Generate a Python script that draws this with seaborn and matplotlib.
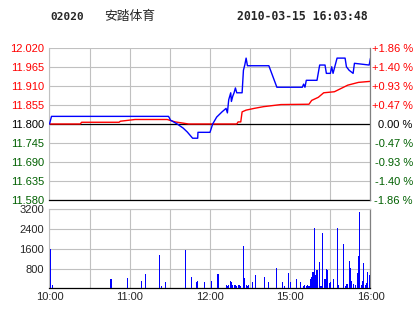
import matplotlib
matplotlib.use("Agg")
import matplotlib.pyplot as plt
import seaborn as sns

# ---------------- data ----------------
code = "02020"
name = "安踏体育"
stamp = "2010-03-15 16:03:48"

price_levels = [11.580, 11.635, 11.690, 11.745, 11.800, 11.855, 11.910, 11.965, 12.020]
price_labels = ["11.580", "11.635", "11.690", "11.745", "11.800", "11.855", "11.910", "11.965", "12.020"]
pct_labels = ["-1.86 %", "-1.40 %", "-0.93 %", "-0.47 %", "0.00 %", "+0.47 %", "+0.93 %", "+1.40 %", "+1.86 %"]
prev_close = 11.800

time_ticks = [0, 30, 60, 90, 120, 150, 180, 210, 240]
time_labels = ["10:00", "", "11:00", "", "12:00", "", "15:00", "", "16:00"]

vol_ticks = [800, 1600, 2400, 3200]
vol_labels = ["800", "1600", "2400", "3200"]

# price (minute index, price)
price_t = [0, 1.5, 89, 90.5, 95.5, 100, 103, 107, 110.8, 111, 120, 122, 125, 129, 132, 133,
           134, 135.5, 136, 137, 138, 139, 140, 144, 145, 146, 147, 148, 164, 170, 189, 190,
           191, 192, 200, 202, 206, 207, 210, 211, 212, 215, 221, 222, 224, 227, 228, 239, 240]
price_p = [11.800, 11.822, 11.822, 11.811, 11.800, 11.788, 11.777, 11.759, 11.759, 11.776,
           11.776, 11.800, 11.820, 11.835, 11.845, 11.832, 11.870, 11.890, 11.865, 11.880,
           11.890, 11.904, 11.890, 11.890, 11.955, 11.970, 11.990, 11.968, 11.968, 11.906,
           11.906, 11.915, 11.906, 11.926, 11.926, 11.970, 11.970, 11.946, 11.946, 11.965,
           11.946, 11.990, 11.990, 11.965, 11.955, 11.946, 11.975, 11.970, 11.990]

# average price (minute index, price)
avg_t = [0, 23, 24, 52, 53, 64, 88, 94, 104, 140, 141, 143, 144, 147, 153, 160, 173, 194,
         196, 201, 205, 213, 223, 231, 240]
avg_p = [11.800, 11.800, 11.805, 11.805, 11.808, 11.813, 11.813, 11.806, 11.800, 11.800,
         11.806, 11.806, 11.835, 11.840, 11.845, 11.850, 11.856, 11.857, 11.868, 11.877,
         11.890, 11.893, 11.912, 11.920, 11.923]

# volume (minute index, shares)
vol_t = [1, 2, 46, 58, 69, 72, 82, 84, 87, 102, 106, 110, 111, 116, 121, 126, 132, 133, 134,
         135, 136, 137, 138, 139, 140, 141, 142, 143, 145, 146, 147, 148, 149, 152, 154, 161,
         164, 170, 174, 176, 179, 180, 185, 188, 190, 191, 192, 193, 194, 195, 196, 197, 198,
         199, 200, 202, 203, 204, 206, 207, 208, 209, 210, 212, 215, 216, 220, 221, 222, 223,
         224, 225, 226, 227, 229, 230, 231, 232, 233, 234, 235, 236, 237, 238, 239, 240]
vol_v = [1600, 120, 370, 410, 290, 570, 1350, 80, 250, 1560, 450, 250, 290, 250, 290, 570,
         120, 80, 150, 290, 250, 120, 150, 150, 100, 120, 150, 100, 1720, 410, 120, 100, 120,
         250, 530, 450, 250, 820, 250, 80, 610, 250, 370, 250, 80, 120, 100, 120, 100, 370,
         450, 650, 2460, 530, 740, 1070, 80, 2260, 370, 780, 740, 200, 250, 370, 2460, 120,
         1800, 80, 160, 160, 1110, 820, 290, 160, 120, 610, 1310, 3080, 120, 290, 1030, 120,
         200, 650, 530, 1600]

# ---------------- style ----------------
sns.set_style("white")
plt.rcParams["font.family"] = ["Liberation Sans", "DejaVu Sans"]
RED = "#ff0000"
GREEN = "#006000"
BLUE = "#0000ff"
GRID = "#c0c0c0"
DARK = "#808080"

W, H = 414, 314
fig = plt.figure(figsize=(W / 100, H / 100), dpi=100)
fig.patch.set_facecolor("white")


def rect(l, t, r, b):
    return [l / W, 1 - b / H, (r - l) / W, (b - t) / H]


ax = fig.add_axes(rect(49.5, 47.7, 370.5, 200.3))
axv = fig.add_axes(rect(49.5, 209.3, 370.5, 288.3))

# ---------------- price panel ----------------
ax.set_xlim(0, 240)
ax.set_ylim(price_levels[0], price_levels[-1])
ax.set_xticks(time_ticks)
ax.set_xticklabels([])
ax.set_yticks(price_levels)
ax.set_yticklabels(price_labels)
ax.grid(True, color=GRID, lw=0.8)
ax.set_axisbelow(True)
ax.tick_params(axis="both", length=0)
ax.tick_params(axis="y", pad=4, labelsize=8)
for lbl, v in zip(ax.get_yticklabels(), price_levels):
    lbl.set_color(RED if v > prev_close + 1e-9 else (GREEN if v < prev_close - 1e-9 else "black"))
ax.spines["top"].set_visible(False)
ax.spines["right"].set_visible(False)
ax.spines["left"].set_color(GRID)
ax.spines["left"].set_linewidth(0.8)
ax.spines["bottom"].set_color("black")
ax.spines["bottom"].set_linewidth(0.9)

ax.axhline(prev_close, color="black", lw=0.9, zorder=2)
sns.lineplot(x=avg_t, y=avg_p, ax=ax, color=RED, lw=1.0, estimator=None, sort=False, zorder=3)
sns.lineplot(x=price_t, y=price_p, ax=ax, color=BLUE, lw=1.0, estimator=None, sort=False, zorder=4)

axr = ax.twinx()
axr.set_ylim(price_levels[0], price_levels[-1])
axr.set_yticks(price_levels)
axr.set_yticklabels(pct_labels)
axr.tick_params(axis="y", length=0, pad=30.5, labelsize=8)
for lbl, v in zip(axr.get_yticklabels(), price_levels):
    lbl.set_horizontalalignment("right")
    lbl.set_color(RED if v > prev_close + 1e-9 else (GREEN if v < prev_close - 1e-9 else "black"))
for s in ["top", "left", "bottom"]:
    axr.spines[s].set_visible(False)
axr.spines["right"].set_color(DARK)
axr.spines["right"].set_linewidth(0.9)

# ---------------- volume panel ----------------
axv.set_xlim(0, 240)
axv.set_ylim(0, 3200)
axv.bar(vol_t, vol_v, width=0.8, color=BLUE, linewidth=0, antialiased=False, zorder=3)
axv.set_xticks(time_ticks)
axv.set_xticklabels(time_labels)
axv.set_yticks(vol_ticks)
axv.set_yticklabels(vol_labels)
axv.grid(True, color=GRID, lw=0.8)
axv.set_axisbelow(True)
axv.tick_params(axis="both", length=0, labelsize=8)
axv.tick_params(axis="y", pad=4)
axv.tick_params(axis="x", pad=3)
axv.spines["top"].set_color(GRID)
axv.spines["top"].set_linewidth(0.8)
axv.spines["left"].set_color(GRID)
axv.spines["left"].set_linewidth(0.8)
axv.spines["right"].set_color(DARK)
axv.spines["right"].set_linewidth(0.9)
axv.spines["bottom"].set_color("black")
axv.spines["bottom"].set_linewidth(0.9)

# ---------------- header ----------------
ty = 1 - 16.5 / H
fig.text(50 / W, ty, code, family="DejaVu Sans Mono", weight="bold", fontsize=8, ha="left", va="center")
fig.text(104 / W, ty, name, family=["Noto Sans CJK SC", "DejaVu Sans"], fontsize=9.2, ha="left", va="center")
fig.text(237 / W, ty, stamp, family="DejaVu Sans Mono", weight="bold", fontsize=8.3, ha="left", va="center")

fig.savefig("out.png", dpi=100, facecolor="white")
